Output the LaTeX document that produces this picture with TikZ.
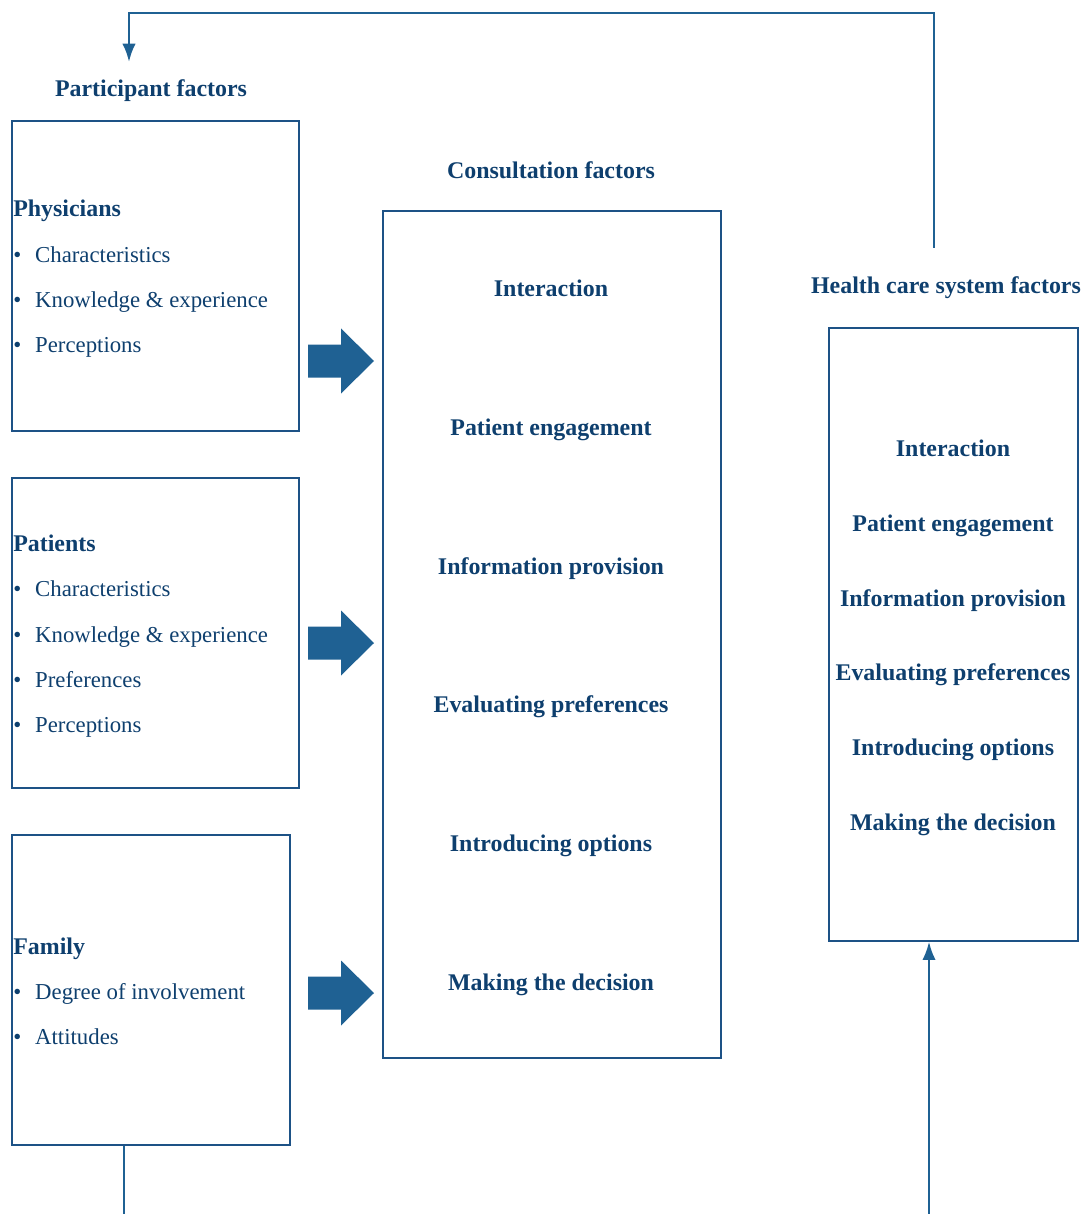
\documentclass[tikz,border=0pt]{standalone}
\usepackage{fontspec}
\setmainfont{Liberation Serif}
\usetikzlibrary{arrows.meta,fit}
\definecolor{navy}{HTML}{0E3F6E}
\definecolor{boxline}{HTML}{1D5286}
\definecolor{flow}{HTML}{1F6193}
\tikzset{
  box/.style={draw=boxline, line width=0.9pt, inner sep=0pt},
  title/.style={font=\fontsize{17}{20}\selectfont\bfseries, text=navy, inner sep=0pt, text height=0.7em, text depth=0.2em, yshift=-2.8pt},
  head/.style={title, anchor=west},
  item/.style={font=\fontsize{16.2}{19}\selectfont, text=navy, anchor=west, inner sep=0pt, text height=0.7em, text depth=0.2em, yshift=-2.8pt},
  link/.style={draw=flow, line width=1.8pt, -{Latex[length=13pt,width=9.5pt]}},
  plain/.style={draw=flow, line width=1.8pt}
}
\newcommand\bitem[1]{\makebox[15.6pt][l]{\textbullet}#1}
\begin{document}
\begin{tikzpicture}[x=0.025cm, y=-0.025cm]
        \useasboundingbox (0,0) rectangle (1087,1214);
        % participant factors
        \node[title] (partTitle) at (151,89) {Participant factors};
        \node[box, fit={(12,121) (299,431)}] (phys) {};
        \node[box, fit={(12,478) (299,788)}] (pat) {};
        \node[box, fit={(12,835) (290,1145)}] (fam) {};
        \node[head] (physHead) at (13,209) {Physicians};
        \foreach \txt [count=\i] in {Characteristics, Knowledge \& experience, Perceptions}
          \node[item] (phys-\i) at (13,210+45*\i) {\bitem{\txt}};
        \node[head] (patHead) at (13,544) {Patients};
        \foreach \txt [count=\i] in {Characteristics, Knowledge \& experience, Preferences, Perceptions}
          \node[item] (pat-\i) at (13,544+45.3*\i) {\bitem{\txt}};
        \node[head] (famHead) at (13,947) {Family};
        \foreach \txt [count=\i] in {Degree of involvement, Attitudes}
          \node[item] (fam-\i) at (13,947+45*\i) {\bitem{\txt}};
        % consultation factors
        \node[title] (consTitle) at (551,171) {Consultation factors};
        \node[box, fit={(383,211) (721,1058)}] (cons) {};
        \foreach \txt [count=\i] in {Interaction, Patient engagement, Information provision, Evaluating preferences, Introducing options, Making the decision}
          \node[title] (cons-\i) at (551,289+138.8*\i-138.8) {\txt};
        % health care system factors
        \node[title] (hcsTitle) at (946,286) {Health care system factors};
        \node[box, fit={(829,328) (1078,941)}] (hcs) {};
        \foreach \txt [count=\i] in {Interaction, Patient engagement, Information provision, Evaluating preferences, Introducing options, Making the decision}
          \node[title] (hcs-\i) at (953,449+74.8*\i-74.8) {\txt};
        % block arrows
        \foreach \y in {361,643,993}
          \fill[flow] (308,\y-16.5) -- (341,\y-16.5) -- (341,\y-32.5) -- (374,\y) -- (341,\y+32.5) -- (341,\y+16.5) -- (308,\y+16.5) -- cycle;
        % feedback lines
        \coordinate (fbStart) at (934,248);
        \coordinate (fbEnd) at (129,62);
        \draw[link] (fbStart) -- (934,13) -- (129,13) -- (fbEnd);
        \coordinate (famOut) at (124,1214);
        \draw[plain] (famOut |- fam.south) -- (famOut);
        \coordinate (hcsIn) at (929,1214);
        \draw[link] (hcsIn) -- (hcsIn |- hcs.south);
      \end{tikzpicture}
\end{document}
